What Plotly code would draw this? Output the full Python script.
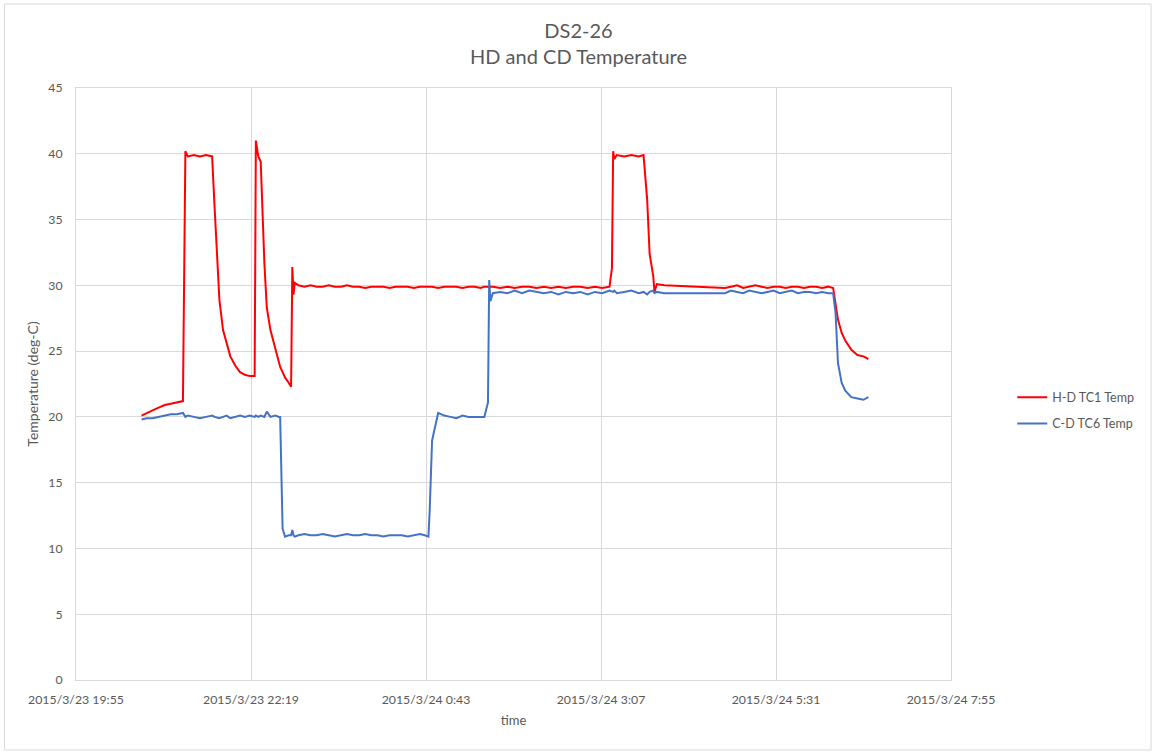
import pandas as pd
import plotly.graph_objects as go

# logger timestamps (shared by both thermocouples)
day1 = "2015-03-23 "
day2 = "2015-03-24 "
times_d1 = ["20:49", "20:53", "20:58", "21:03", "21:08", "21:13", "21:18", "21:23", "21:25", "21:27",
            "21:32", "21:37", "21:42", "21:47", "21:49", "21:53", "21:56", "21:59", "22:02", "22:06",
            "22:10", "22:14", "22:18", "22:22", "22:23", "22:25", "22:27", "22:30", "22:32", "22:35",
            "22:39", "22:42", "22:43", "22:45", "22:47", "22:50", "22:52", "22:53", "22:54", "22:55",
            "22:58", "23:03", "23:08", "23:13", "23:18", "23:23", "23:28", "23:33", "23:38", "23:43",
            "23:48", "23:53", "23:58"]
times_d2 = ["00:03", "00:08", "00:13", "00:18", "00:23", "00:28", "00:33", "00:38", "00:42", "00:45",
            "00:46", "00:48", "00:53", "00:58", "01:03", "01:08", "01:13", "01:18", "01:23", "01:28",
            "01:31", "01:34", "01:35", "01:36", "01:38", "01:44", "01:50", "01:56", "02:02", "02:08",
            "02:14", "02:20", "02:26", "02:32", "02:38", "02:44", "02:50", "02:56", "03:02", "03:08",
            "03:14", "03:16", "03:17", "03:18", "03:20", "03:26", "03:32", "03:38", "03:42", "03:45",
            "03:47", "03:50", "03:51", "03:53", "03:59", "04:49", "04:54", "04:59", "05:04", "05:09",
            "05:14", "05:19", "05:24", "05:29", "05:34", "05:39", "05:44", "05:49", "05:54", "05:59",
            "06:04", "06:09", "06:14", "06:18", "06:20", "06:22", "06:25", "06:28", "06:33", "06:38",
            "06:43", "06:47"]

# H-D TC1 Temp (deg-C)
hd_tc1 = [20.1, 20.3, 20.5, 20.7, 20.9, 21.0, 21.1, 21.2, 40.2, 39.8,
          39.9, 39.8, 39.9, 39.8, 36.0, 28.9, 26.6, 25.6, 24.6, 23.9,
          23.4, 23.2, 23.1, 23.1, 41.0, 39.8, 39.4, 31.7, 28.3, 26.6,
          25.1, 24.0, 23.8, 23.4, 23.0, 22.6, 22.3, 31.4, 29.3, 30.2,
          30.0, 29.9, 30.0, 29.9, 29.9, 30.0, 29.9, 29.9, 30.0, 29.9,
          29.9, 29.8, 29.9,
          29.9, 29.9, 29.8, 29.9, 29.9, 29.9, 29.8, 29.9, 29.9, 29.9,
          29.9, 29.9, 29.8, 29.9, 29.9, 29.9, 29.8, 29.9, 29.9, 29.8,
          29.9, 29.9, 29.8, 29.9, 29.9, 29.8, 29.9, 29.8, 29.9, 29.9,
          29.8, 29.9, 29.8, 29.9, 29.8, 29.9, 29.9, 29.8, 29.9, 29.8,
          29.9, 31.3, 40.2, 39.6, 39.9, 39.8, 39.9, 39.8, 39.9, 36.5,
          32.4, 30.7, 29.5, 30.1, 30.0, 29.8, 29.9, 30.0, 29.8, 29.9,
          30.0, 29.9, 29.8, 29.9, 29.9, 29.8, 29.9, 29.9, 29.8, 29.9,
          29.9, 29.8, 29.9, 29.8, 28.6, 27.4, 26.4, 25.8, 25.1, 24.7,
          24.6, 24.4]

# C-D TC6 Temp (deg-C)
cd_tc6 = [19.8, 19.9, 19.9, 20.0, 20.1, 20.2, 20.2, 20.3, 20.0, 20.1,
          20.0, 19.9, 20.0, 20.1, 20.0, 19.9, 20.0, 20.1, 19.9, 20.0,
          20.1, 20.0, 20.1, 20.0, 20.1, 20.0, 20.1, 20.0, 20.4, 20.0,
          20.1, 20.0, 20.0, 11.5, 10.9, 11.0, 11.0, 11.4, 11.0, 10.9,
          11.0, 11.1, 11.0, 11.0, 11.1, 11.0, 10.9, 11.0, 11.1, 11.0,
          11.0, 11.1, 11.0,
          11.0, 10.9, 11.0, 11.0, 11.0, 10.9, 11.0, 11.1, 11.0, 10.9,
          12.8, 18.2, 20.3, 20.1, 20.0, 19.9, 20.1, 20.0, 20.0, 20.0,
          20.0, 21.1, 30.4, 28.8, 29.4, 29.5, 29.4, 29.6, 29.4, 29.6,
          29.5, 29.4, 29.5, 29.3, 29.5, 29.4, 29.5, 29.3, 29.5, 29.4,
          29.6, 29.5, 29.5, 29.6, 29.4, 29.5, 29.6, 29.4, 29.5, 29.3,
          29.5, 29.6, 29.4, 29.5, 29.4, 29.4, 29.6, 29.5, 29.4, 29.6,
          29.5, 29.4, 29.5, 29.6, 29.4, 29.5, 29.6, 29.4, 29.5, 29.5,
          29.4, 29.5, 29.4, 29.4, 27.9, 24.1, 22.6, 22.0, 21.5, 21.4,
          21.3, 21.5]

series_names = ["H-D TC1 Temp", "C-D TC6 Temp"]
y_ticks = [0, 5, 10, 15, 20, 25, 30, 35, 40, 45]

times = pd.to_datetime([day1 + t for t in times_d1] + [day2 + t for t in times_d2])

TEXT = "#595959"
GRID = "#D9D9D9"
FONT = "Lato, 'Open Sans', sans-serif"

fig = go.Figure()
fig.add_trace(go.Scatter(x=times, y=hd_tc1, mode="lines", name=series_names[0],
                         legendgroup="hd", line=dict(color="#FF0000", width=2)))
fig.add_trace(go.Scatter(x=times, y=cd_tc6, mode="lines", name=series_names[1],
                         legendgroup="cd", line=dict(color="#4472C4", width=2)))

fig.update_layout(
    width=1157, height=756,
    paper_bgcolor="white", plot_bgcolor="white",
    margin=dict(l=76, r=206, t=88, b=76),
    font=dict(family=FONT, color=TEXT, size=12),
    title=dict(text="DS2-26<br>HD and CD Temperature", x=0.5, xanchor="center",
               y=0.95, yanchor="top", font=dict(size=20, color=TEXT, family=FONT)),
    xaxis=dict(
        type="date",
        range=["2015-03-23 19:55", "2015-03-24 07:55"],
        tick0="2015-03-23 19:55", dtick=144 * 60 * 1000,
        tickformat="%Y/%-m/%-d %-H:%M",
        showgrid=True, gridcolor=GRID, gridwidth=1,
        showline=True, linecolor=GRID, mirror=True,
        zeroline=False, ticks="", ticklabelstandoff=8,
        title=dict(text="time", font=dict(size=13, color=TEXT), standoff=10),
        tickfont=dict(size=12.3, color=TEXT),
    ),
    yaxis=dict(
        range=[0, 45], tickvals=y_ticks,
        showgrid=True, gridcolor=GRID, gridwidth=1,
        showline=True, linecolor=GRID, mirror=True,
        zeroline=False, ticks="", ticklabelstandoff=10,
        title=dict(text="Temperature (deg-C)", font=dict(size=14, color=TEXT), standoff=6),
        tickfont=dict(size=12.3, color=TEXT),
    ),
    legend=dict(x=1.07, y=0.455, xanchor="left", yanchor="middle",
                font=dict(size=12.5, color=TEXT), bgcolor="rgba(0,0,0,0)",
                tracegroupgap=7),
    showlegend=True,
)

# light outer chart border
fig.add_shape(type="rect", xref="paper", yref="paper",
              x0=-0.0817, x1=1.2286, y0=-0.1182, y1=1.1419,
              line=dict(color=GRID, width=1), fillcolor="rgba(0,0,0,0)", layer="below")

fig.write_html("out.html", config={"displayModeBar": False},
               post_script="document.body.style.margin='0px';")
